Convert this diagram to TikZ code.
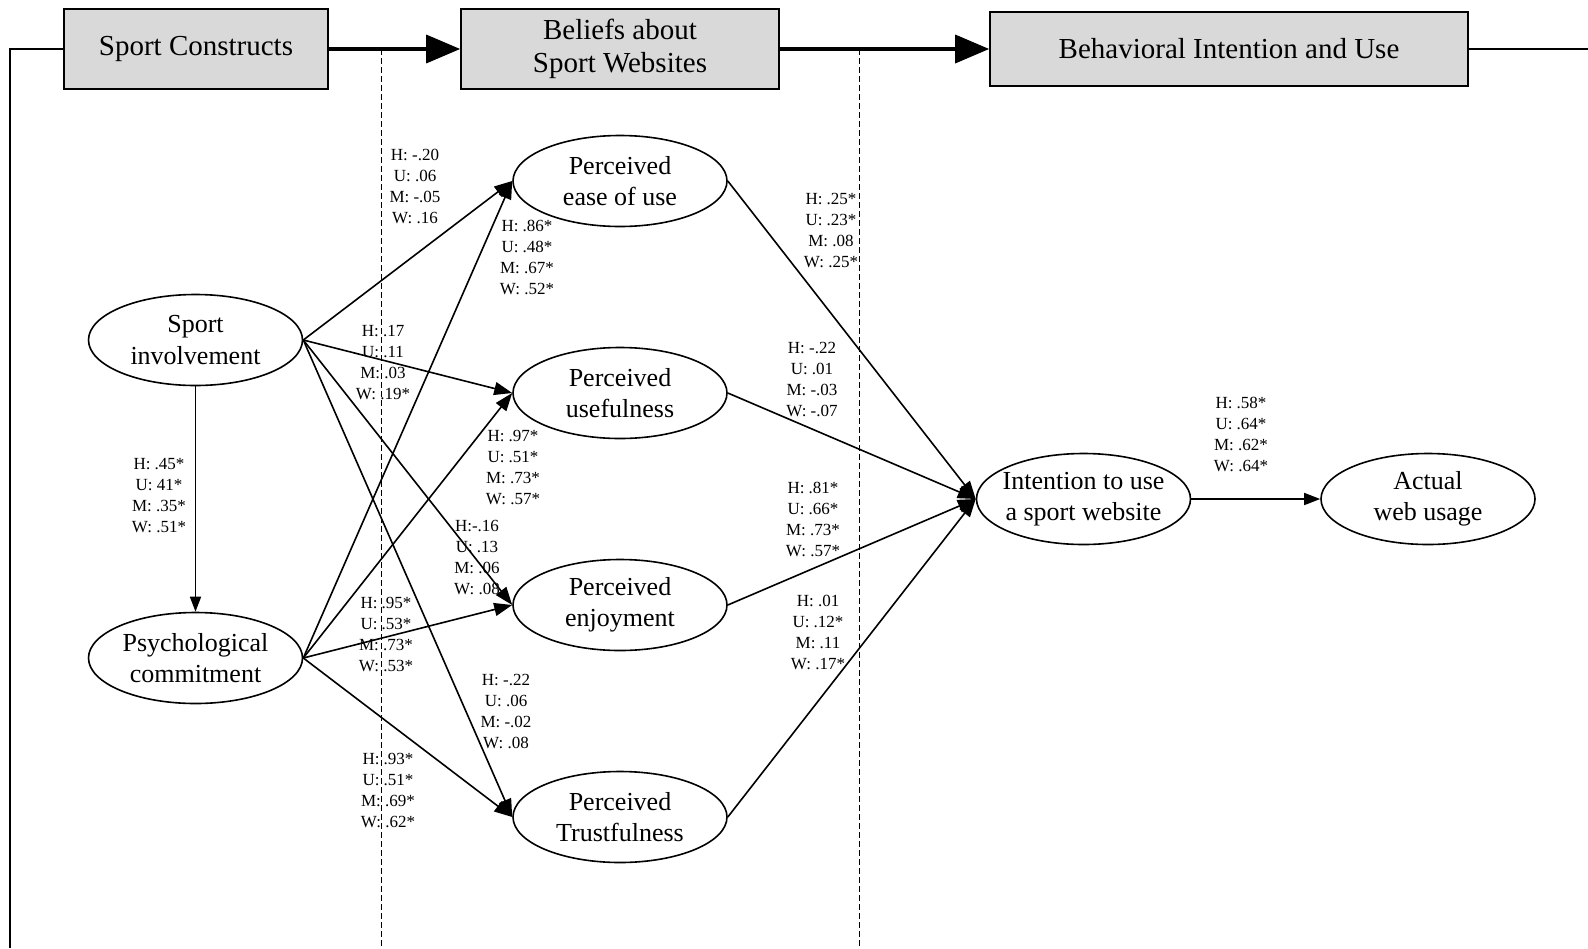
\documentclass[tikz,border=0pt]{standalone}
\usepackage{fontspec}
\setmainfont{Liberation Serif}
\usetikzlibrary{arrows.meta,shapes.geometric}
\tikzset{
  stage/.style={draw, line width=1.6pt, fill=black!15, inner sep=0pt,
    align=center, font=\fontsize{29}{33}\selectfont},
  construct/.style={draw, ellipse, line width=1.6pt, minimum width=214pt,
    minimum height=91pt, inner sep=0pt, align=center,
    font=\fontsize{26}{31.4}\selectfont},
  coef/.style={align=center, inner sep=0pt, font=\fontsize{17}{21}\selectfont},
  path/.style={line width=1.6pt, -{Triangle[length=18pt,width=13pt]}},
  flow/.style={line width=3.5pt, -{Triangle[length=34pt,width=28pt]}},
  frame/.style={line width=1.6pt},
  divider/.style={line width=0.8pt, dash pattern=on 6pt off 3pt}
}
\begin{document}
\begin{tikzpicture}[x=1pt,y=-1pt]
\useasboundingbox (0,0) rectangle (1588,948);

% stage boxes
\node[stage, minimum width=264pt, minimum height=80pt] (sc) at (196,49) {Sport Constructs};
\node[stage, minimum width=318pt, minimum height=80pt] (bel) at (620,49) {Beliefs about\\Sport Websites};
\node[stage, minimum width=478pt, minimum height=74pt] (biu) at (1229,49) {Behavioral Intention and Use};

% frame lines and dividers
\coordinate (lt) at (10,49);
\coordinate (lb) at (10,948);
\coordinate (re) at (1588,49);
\coordinate (d1t) at (381,49);
\coordinate (d1b) at (381,948);
\coordinate (d2t) at (859,49);
\coordinate (d2b) at (859,948);
\draw[frame] (sc.west) -- (lt) -- (lb);
\draw[frame] (biu.east) -- (re);
\draw[divider] (d1t) -- (d1b);
\draw[divider] (d2t) -- (d2b);
\draw[flow] (sc.east) -- (bel.west);
\draw[flow] (bel.east) -- (biu.west);

% constructs
\node[construct] (si) at (195.5,340) {Sport\\involvement};
\node[construct] (pc) at (195.5,658) {Psychological\\commitment};
\node[construct] (peou) at (620,181) {Perceived\\ease of use};
\node[construct] (pu) at (620,393) {Perceived\\usefulness};
\node[construct] (pe) at (620,605) {Perceived\\enjoyment};
\node[construct] (pt) at (620,817) {Perceived\\Trustfulness};
\node[construct, inner xsep=-6pt] (int) at (1083.5,499) {Intention to use\\a sport website};
\node[construct] (awu) at (1428,499) {Actual\\web usage};

% structural paths
\draw[path, -{Triangle[length=15pt,width=11pt]}] (si) -- (pc);
\foreach \t in {peou,pu,pe,pt}{
  \draw[path] (si.east) -- (\t.west);
  \draw[path] (pc.east) -- (\t.west);
  \draw[path] (\t.east) -- (int.west);
}
\draw[path, -{Triangle[length=16pt,width=12pt]}] (int) -- (awu);

% path coefficients
\node[coef] (c1) at (415,186) {H: -.20\\U: .06\\M: -.05\\W: .16};
\node[coef] (c2) at (527,257) {H: .86*\\U: .48*\\M: .67*\\W: .52*};
\node[coef] (c3) at (383,363) {H: .17\\U: .11\\M: .03\\W: .19*};
\node[coef] (c4) at (513,467) {H: .97*\\U: .51*\\M: .73*\\W: .57*};
\node[coef] (c5) at (477,557) {H:-.16\\U: .13\\M: .06\\W: .08};
\node[coef] (c6) at (386,634) {H: .95*\\U: .53*\\M: .73*\\W: .53*};
\node[coef] (c7) at (506,711) {H: -.22\\U: .06\\M: -.02\\W: .08};
\node[coef] (c8) at (388,790) {H: .93*\\U: .51*\\M: .69*\\W: .62*};
\node[coef] (c9) at (831,230) {H: .25*\\U: .23*\\M: .08\\W: .25*};
\node[coef] (c10) at (812,379) {H: -.22\\U: .01\\M: -.03\\W: -.07};
\node[coef] (c11) at (813,519) {H: .81*\\U: .66*\\M: .73*\\W: .57*};
\node[coef] (c12) at (818,632) {H: .01\\U: .12*\\M: .11\\W: .17*};
\node[coef] (c13) at (159,496) {H: .45*\\U: 41*\\M: .35*\\W: .51*};
\node[coef] (c14) at (1241,434) {H: .58*\\U: .64*\\M: .62*\\W: .64*};
\end{tikzpicture}
\end{document}
